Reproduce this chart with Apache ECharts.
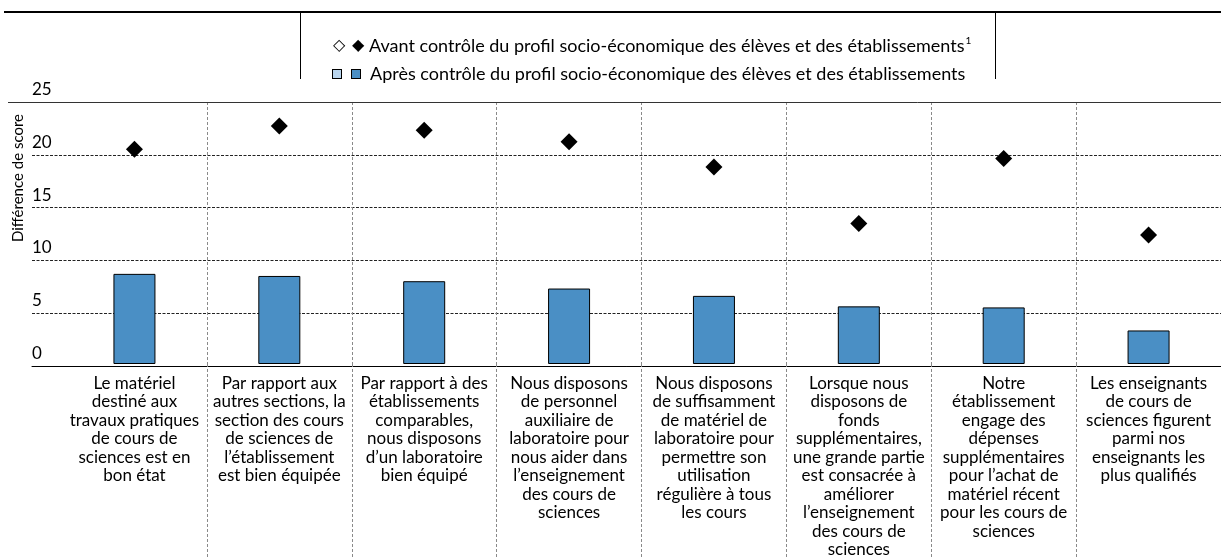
<!DOCTYPE html>
<html lang="fr">
<head>
<meta charset="UTF-8">
<title>Différence de score</title>
<script src="https://cdn.jsdelivr.net/npm/echarts@6/dist/echarts.min.js"></script>
<style>
  html, body { margin: 0; padding: 0; background: #fff; }
  #main { width: 1221px; height: 559px; }
</style>
</head>
<body>
<div id="main"></div>
<script>
// catégories (retours à la ligne comme dans la figure)
var categories = [
    'Le matériel\ndestiné aux\ntravaux pratiques\nde cours de\nsciences est en\nbon état',
    'Par rapport aux\nautres sections, la\nsection des cours\nde sciences de\nl\u2019établissement\nest bien équipée',
    'Par rapport à des\nétablissements\ncomparables,\nnous disposons\nd\u2019un laboratoire\nbien équipé',
    'Nous disposons\nde personnel\nauxiliaire de\nlaboratoire pour\nnous aider dans\nl\u2019enseignement\ndes cours de\nsciences',
    'Nous disposons\nde suffisamment\nde matériel de\nlaboratoire pour\npermettre son\nutilisation\nrégulière à tous\nles cours',
    'Lorsque nous\ndisposons de\nfonds\nsupplémentaires,\nune grande partie\nest consacrée à\naméliorer\nl\u2019enseignement\ndes cours de\nsciences',
    'Notre\nétablissement\nengage des\ndépenses\nsupplémentaires\npour l\u2019achat de\nmatériel récent\npour les cours de\nsciences',
    'Les enseignants\nde cours de\nsciences figurent\nparmi nos\nenseignants les\nplus qualifiés'
];
var nameAvant = 'Avant contrôle du profil socio-économique des élèves et des établissements';
var nameApres = 'Après contrôle du profil socio-économique des élèves et des établissements';
var avant = [20.5, 22.7, 22.3, 21.2, 18.8, 13.4, 19.6, 12.3];
var apres = [8.6, 8.4, 7.9, 7.2, 6.5, 5.5, 5.4, 3.2];
var yTicks = [0, 5, 10, 15, 20, 25];

var FONT = 'Lato, "Open Sans", sans-serif';

var myChart = echarts.init(document.getElementById('main'));

var option = {
    animation: false,
    textStyle: { fontFamily: FONT, color: '#000' },
    legend: {
        data: [nameAvant, nameApres],
        orient: 'vertical',
        left: 322,
        top: 31,
        itemWidth: 0,
        itemHeight: 0,
        itemGap: 8,
        selectedMode: false,
        textStyle: { fontFamily: FONT, fontSize: 18, color: '#000', lineHeight: 20,
            rich: {
                d1: { width: 19, fontSize: 16, fontFamily: 'DejaVu Sans', color: '#000' },
                d2: { width: 17, fontSize: 16, fontFamily: 'DejaVu Sans', color: '#000' },
                s1: { width: 8, height: 8, backgroundColor: '#b9d5ee', borderColor: '#000', borderWidth: 1 },
                s2: { width: 8, height: 8, backgroundColor: '#4a8fc5', borderColor: '#000', borderWidth: 1 },
                g1: { width: 11 },
                g2: { width: 10 },
                sup: { fontSize: 10, verticalAlign: 'top', padding: [0, 0, 8, 1], fontFamily: FONT }
            }
        },
        formatter: function (name) {
            if (name === nameAvant) return '{d1|\u25c7}{d2|\u25c6}' + name + '{sup|1}';
            return '{s1|}{g1|}{s2|}{g2|}' + name;
        }
    },
    grid: [
        { left: 32, right: -10, top: 102, bottom: 193 },
        { left: 62, right: -10, top: 102, bottom: 193 }
    ],
    xAxis: [
        {
            gridIndex: 0, type: 'value', min: 0, max: 1,
            axisLine: { show: true, lineStyle: { color: '#000', width: 1 } },
            axisTick: { show: false }, axisLabel: { show: false }, splitLine: { show: false }
        },
        {
            gridIndex: 1, type: 'category', data: categories,
            axisLine: { show: false },
            axisTick: {
                show: true, alignWithLabel: false, length: 195,
                interval: function (i) { return i > 0; },
                lineStyle: { color: '#8a8a8a', type: [3, 2], width: 1 }
            },
            splitLine: {
                show: true,
                interval: function (i) { return i > 0; },
                lineStyle: { color: '#8a8a8a', type: [3, 2], width: 1 }
            },
            axisLabel: {
                interval: 0, margin: 10, fontSize: 17, lineHeight: 18.5,
                color: '#000', fontFamily: FONT, verticalAlign: 'top'
            }
        }
    ],
    yAxis: [
        {
            gridIndex: 0, type: 'value', min: 0, max: 25, interval: 5,
            axisLine: { show: false }, axisTick: { show: false },
            axisLabel: {
                inside: true, margin: 0, align: 'left', verticalAlign: 'bottom',
                padding: [0, 0, 4, 0], fontSize: 17, color: '#000', fontFamily: FONT,
                formatter: function (v) { return yTicks.indexOf(v) >= 0 ? String(v) : ''; }
            },
            splitLine: { show: true, lineStyle: { color: '#222', type: [3, 1.5], width: 1 } }
        },
        { gridIndex: 1, type: 'value', min: 0, max: 25, interval: 5, show: false }
    ],
    series: [
        {
            name: nameApres, type: 'bar', xAxisIndex: 1, yAxisIndex: 1,
            data: apres, barWidth: 42,
            itemStyle: { color: '#4a8fc5', borderColor: '#000', borderWidth: 1 },
            z: 3
        },
        {
            name: nameAvant, type: 'scatter', xAxisIndex: 1, yAxisIndex: 1,
            data: avant, symbol: 'diamond', symbolSize: 17,
            itemStyle: { color: '#000', opacity: 1 },
            z: 4
        }
    ],
    graphic: [
        // filet du haut
        { type: 'line', shape: { x1: 4, y1: 12, x2: 1221, y2: 12 }, style: { stroke: '#000', lineWidth: 2 } },
        // cadre de la légende
        { type: 'line', shape: { x1: 300.5, y1: 12, x2: 300.5, y2: 79 }, style: { stroke: '#000', lineWidth: 1 } },
        { type: 'line', shape: { x1: 995.5, y1: 12, x2: 995.5, y2: 79 }, style: { stroke: '#000', lineWidth: 1 } },
        // ligne à 25, pleine
        { type: 'line', z: 5, shape: { x1: 8, y1: 102.5, x2: 1221, y2: 102.5 }, style: { stroke: '#333', lineWidth: 1 } },
        {
            type: 'text', x: 18, y: 178, rotation: Math.PI / 2,
            style: { text: 'Différence de score', fontFamily: FONT, fontSize: 15, fill: '#000',
                     align: 'center', verticalAlign: 'middle' }
        }
    ]
};

myChart.setOption(option);
</script>
</body>
</html>
